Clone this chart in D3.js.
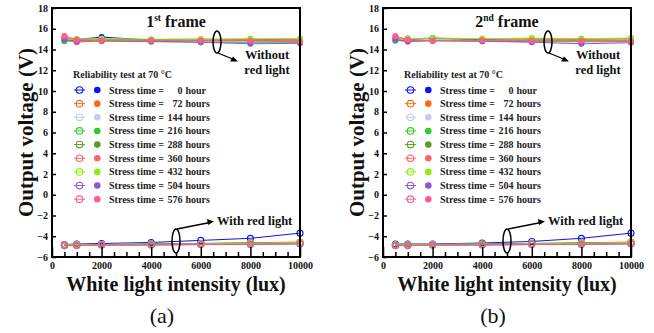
<!DOCTYPE html>
<html><head><meta charset="utf-8">
<script src="https://cdn.jsdelivr.net/npm/d3@7"></script>
<style>
html,body{margin:0;padding:0;background:#fff;}
svg{display:block;font-family:"Liberation Serif","Times New Roman",serif;}
</style></head><body>
<svg id="c" width="654" height="333"></svg>
<script>
// ---------- data ----------
const lux = [500, 1000, 2000, 4000, 6000, 8000, 10000];
const stressHours = [0, 72, 144, 216, 288, 360, 432, 504, 576];
const seriesColors = ["#0a14f0", "#ff6a14", "#c8c8f4", "#2ccc2c", "#5f9a2c", "#ff6466", "#8ef00a", "#8a5ad2", "#ff5c8c"];
const xTicks = [0, 2000, 4000, 6000, 8000, 10000];
const yTicks = [-6, -4, -2, 0, 2, 4, 6, 8, 10, 12, 14, 16, 18];
const panelTitles = [["1", "st", " frame"], ["2", "nd", " frame"]];
const panelLetters = ["(a)", "(b)"];

// frame 1: without red light (upper group)
const f1Without = [
  [15.0, 14.95, 15.2, 14.9, 14.85, 14.85, 14.8],
  [14.9, 14.7, 14.85, 14.85, 14.9, 14.9, 14.9],
  [15.0, 14.9, 14.9, 14.8, 14.75, 14.7, 14.7],
  [14.8, 14.9, 14.8, 14.75, 14.7, 14.7, 14.7],
  [15.1, 15.0, 15.0, 14.95, 15.0, 14.95, 15.0],
  [15.2, 14.85, 14.9, 14.9, 14.95, 14.95, 14.9],
  [15.0, 15.0, 15.05, 15.0, 15.0, 15.05, 15.05],
  [14.95, 14.8, 14.85, 14.8, 14.7, 14.55, 14.6],
  [15.3, 14.95, 14.85, 14.9, 14.85, 14.85, 14.75]
];
// frame 1: with red light (lower group)
const f1With = [
  [-4.8, -4.75, -4.7, -4.6, -4.4, -4.2, -3.7],
  [-4.85, -4.85, -4.8, -4.75, -4.7, -4.65, -4.55],
  [-4.85, -4.8, -4.8, -4.75, -4.75, -4.7, -4.65],
  [-4.85, -4.8, -4.8, -4.75, -4.7, -4.65, -4.6],
  [-4.85, -4.85, -4.8, -4.75, -4.7, -4.65, -4.6],
  [-4.9, -4.85, -4.85, -4.8, -4.75, -4.7, -4.65],
  [-4.85, -4.85, -4.8, -4.8, -4.75, -4.7, -4.6],
  [-4.9, -4.9, -4.85, -4.85, -4.8, -4.8, -4.75],
  [-4.9, -4.9, -4.85, -4.85, -4.8, -4.75, -4.7]
];
// frame 2
const f2Without = [
  [15.0, 14.95, 15.1, 14.95, 14.85, 14.8, 14.8],
  [14.9, 14.75, 14.85, 14.85, 14.9, 14.9, 14.9],
  [15.05, 14.9, 14.9, 14.85, 14.8, 14.75, 14.75],
  [14.85, 14.9, 14.85, 14.8, 14.75, 14.75, 14.75],
  [15.1, 15.05, 15.05, 15.0, 15.05, 15.0, 15.05],
  [15.2, 14.85, 14.9, 14.9, 14.95, 14.95, 14.9],
  [15.0, 15.05, 15.1, 15.05, 15.1, 15.05, 15.1],
  [14.95, 14.8, 14.85, 14.8, 14.7, 14.55, 14.65],
  [15.3, 14.95, 14.85, 14.9, 14.85, 14.85, 14.8]
];
const f2With = [
  [-4.75, -4.75, -4.75, -4.65, -4.5, -4.2, -3.7],
  [-4.85, -4.85, -4.8, -4.75, -4.7, -4.65, -4.55],
  [-4.85, -4.8, -4.8, -4.75, -4.75, -4.7, -4.65],
  [-4.85, -4.8, -4.8, -4.75, -4.7, -4.65, -4.6],
  [-4.85, -4.85, -4.8, -4.75, -4.7, -4.65, -4.6],
  [-4.9, -4.85, -4.85, -4.8, -4.75, -4.7, -4.65],
  [-4.85, -4.85, -4.8, -4.8, -4.75, -4.7, -4.6],
  [-4.9, -4.9, -4.85, -4.85, -4.8, -4.8, -4.75],
  [-4.9, -4.9, -4.85, -4.85, -4.8, -4.75, -4.7]
];
const panels = [
  {without: f1Without, withRed: f1With},
  {without: f2Without, withRed: f2With}
];

// ---------- drawing ----------
const svg = d3.select("#c");
const W = 248, H = 249;
const x = d3.scaleLinear().domain([0, 10000]).range([0, W]);
const y = d3.scaleLinear().domain([-6, 18]).range([H, 0]);
const line = d3.line().x((d, i) => x(lux[i])).y(d => y(d));
const LF = 10; // legend font size

panels.forEach((p, pi) => {
  const g = svg.append("g").attr("transform", `translate(${52 + pi * 331},8)`);

  // with red light (open circles)
  p.withRed.forEach((s, si) => {
    g.append("path").attr("d", line(s)).attr("fill", "none")
      .attr("stroke", seriesColors[si]).attr("stroke-width", 1);
  });
  p.withRed.forEach((s, si) => {
    g.selectAll(null).data(s).enter().append("circle")
      .attr("cx", (d, i) => x(lux[i])).attr("cy", d => y(d)).attr("r", 3)
      .attr("fill", "none").attr("stroke", seriesColors[si]).attr("stroke-width", 1.1);
  });
  // without red light (filled)
  p.without.forEach((s, si) => {
    g.append("path").attr("d", line(s)).attr("fill", "none")
      .attr("stroke", seriesColors[si]).attr("stroke-width", 1);
  });
  p.without.forEach((s, si) => {
    g.selectAll(null).data(s).enter().append("circle")
      .attr("cx", (d, i) => x(lux[i])).attr("cy", d => y(d)).attr("r", 3)
      .attr("fill", seriesColors[si]);
  });

  // axes
  const xAxis = g.append("g").attr("transform", `translate(0,${H})`)
    .call(d3.axisBottom(x).tickValues(xTicks).tickSize(-10).tickPadding(5).tickFormat(d3.format("d")));
  const xMinor = g.append("g").attr("transform", `translate(0,${H})`)
    .call(d3.axisBottom(x).tickValues(d3.range(500, 10000, 500).filter(v => v % 2000 !== 0)).tickSize(-5).tickFormat(""));
  const yAxis = g.append("g")
    .call(d3.axisLeft(y).tickValues(yTicks).tickSize(-4).tickPadding(4).tickFormat(d3.format("d")));
  [xAxis, xMinor, yAxis].forEach(a => {
    a.select(".domain").remove();
    a.selectAll("line").attr("stroke", "#000").attr("stroke-width", 1.5);
    a.selectAll("text").attr("font-family", "Liberation Serif").attr("font-weight", "bold")
      .attr("font-size", 10).attr("fill", "#111");
  });
  // frame
  g.append("rect").attr("x", 0).attr("y", 0).attr("width", W).attr("height", H)
    .attr("fill", "none").attr("stroke", "#000").attr("stroke-width", 2);

  // title
  const t = g.append("text").attr("x", W / 2).attr("y", 19).attr("text-anchor", "middle")
    .attr("font-weight", "bold").attr("font-size", 16).attr("fill", "#111");
  t.append("tspan").text(panelTitles[pi][0]);
  t.append("tspan").attr("font-size", 9.5).attr("dy", -6).text(panelTitles[pi][1]);
  t.append("tspan").attr("dy", 6).text(panelTitles[pi][2]);

  // annotations
  g.append("ellipse").attr("cx", 165).attr("cy", 34).attr("rx", 4).attr("ry", 11)
    .attr("fill", "none").attr("stroke", "#000").attr("stroke-width", 1.5);
  g.append("path").attr("d", "M166,45 L183,52").attr("stroke", "#000").attr("stroke-width", 1.3);
  g.append("path").attr("d", "M186,53.5 L178,53.5 L181,48.5 Z").attr("fill", "#000");
  g.append("text").attr("x", 215).attr("y", 51).attr("text-anchor", "middle")
    .attr("font-weight", "bold").attr("font-size", 12.5).attr("fill", "#111").text("Without");
  g.append("text").attr("x", 215).attr("y", 66).attr("text-anchor", "middle")
    .attr("font-weight", "bold").attr("font-size", 12.5).attr("fill", "#111").text("red light");

  g.append("ellipse").attr("cx", x(5000)).attr("cy", 233).attr("rx", 4).attr("ry", 12)
    .attr("fill", "none").attr("stroke", "#000").attr("stroke-width", 1.5);
  g.append("path").attr("d", `M${x(5000) + 1},221 L158,214.5`).attr("stroke", "#000").attr("stroke-width", 1.3);
  g.append("path").attr("d", "M162,213.5 L155,211 L156,217 Z").attr("fill", "#000");
  g.append("text").attr("x", 165).attr("y", 217)
    .attr("font-weight", "bold").attr("font-size", 12.5).attr("fill", "#111").text("With red light");

  // legend
  const lg = g.append("g");
  lg.append("text").attr("x", 21).attr("y", 70).attr("font-weight", "bold").attr("font-size", LF)
    .attr("fill", "#222").text("Reliability test at 70 °C");
  stressHours.forEach((h, i) => {
    const cy = 82 + i * 13.65;
    lg.append("line").attr("x1", 22).attr("x2", 33).attr("y1", cy).attr("y2", cy)
      .attr("stroke", seriesColors[i]).attr("stroke-width", 1);
    lg.append("circle").attr("cx", 27.5).attr("cy", cy).attr("r", 3.3).attr("fill", "none")
      .attr("stroke", seriesColors[i]).attr("stroke-width", 1.1);
    lg.append("circle").attr("cx", 45.3).attr("cy", cy).attr("r", 3.3).attr("fill", seriesColors[i]);
    lg.append("text").attr("x", 57).attr("y", cy + 3.5).attr("font-weight", "bold").attr("font-size", LF)
      .attr("fill", "#222").text("Stress time =");
    lg.append("text").attr("x", 130.5).attr("y", cy + 3.5).attr("text-anchor", "end").attr("font-weight", "bold")
      .attr("font-size", LF).attr("fill", "#222").text(h);
    lg.append("text").attr("x", 133.5).attr("y", cy + 3.5).attr("font-weight", "bold").attr("font-size", LF)
      .attr("fill", "#222").text(h === 0 ? "hour" : "hours");
  });

  // axis titles
  g.append("text").attr("x", W / 2).attr("y", 283).attr("text-anchor", "middle")
    .attr("font-weight", "bold").attr("font-size", 20).attr("fill", "#111").text("White light intensity (lux)");
  g.append("text").attr("transform", `translate(${-19},${H / 2}) rotate(-90)`).attr("text-anchor", "middle")
    .attr("font-weight", "bold").attr("font-size", 21).attr("fill", "#111").text("Output voltage (V)");
  g.append("text").attr("x", 110).attr("y", 315).attr("text-anchor", "middle")
    .attr("font-size", 22).attr("fill", "#111").text(panelLetters[pi]);
});
</script>
</body></html>
